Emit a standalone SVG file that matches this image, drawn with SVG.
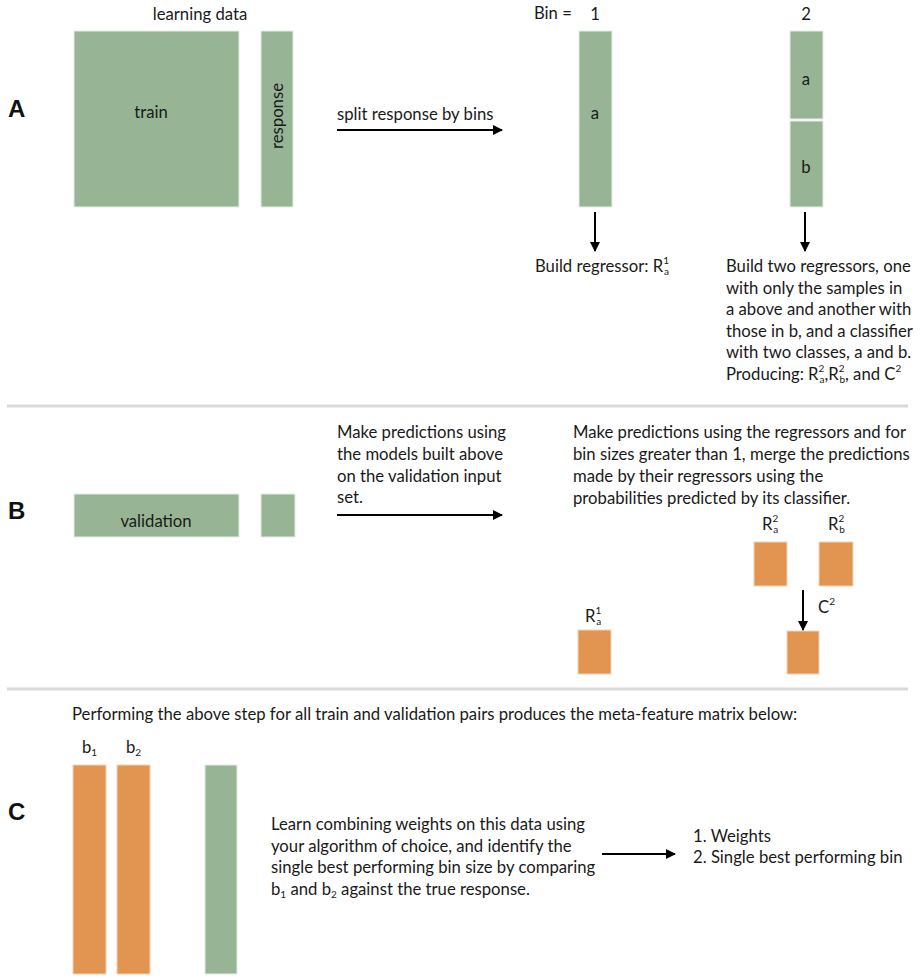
<svg xmlns="http://www.w3.org/2000/svg" width="921" height="978" viewBox="0 0 921 978">
<defs>
<marker id="ah" markerWidth="10" markerHeight="10" refX="9" refY="5" orient="auto" markerUnits="userSpaceOnUse">
<path d="M0,0 L10,5 L0,10 Z" fill="#000"/>
</marker>
<style>
.g{fill:#97b594;stroke:#e6eee5;stroke-width:1}
.o{fill:#e29451;stroke:#f3d4b8;stroke-width:1}
.t{font-family:"Lato","Liberation Sans",sans-serif;font-size:16.7px;fill:#1a1a1a}
.s{font-size:10px}
.L{font-family:"Liberation Sans",Arial,sans-serif;font-weight:bold;font-size:24px;fill:#111}
.ar{stroke:#000;stroke-width:2;fill:none;marker-end:url(#ah)}
.div{stroke:#d9d9d9;stroke-width:3}
</style>
</defs>
<rect width="921" height="978" fill="#fff"/>

<g id="dividers">
<line class="div" x1="7" y1="406" x2="908" y2="406"/>
<line class="div" x1="7" y1="689" x2="908" y2="689"/>
</g>

<g id="labels">
<text class="L" x="8" y="117">A</text>
<text class="L" x="8" y="519">B</text>
<text class="L" x="8" y="820">C</text>
</g>

<g id="sectionA">
<text class="t" x="200" y="20" text-anchor="middle">learning data</text>
<g id="train"><rect class="g" x="74" y="31" width="165" height="176"/><text class="t" x="151" y="118" text-anchor="middle">train</text></g>
<g id="response"><rect class="g" x="261" y="31" width="32" height="176"/><text class="t" transform="translate(283,116) rotate(-90)" text-anchor="middle">response</text></g>
<text class="t" x="337" y="120">split response by bins</text>
<text class="t" x="534" y="19">Bin =</text>
<text class="t" x="595" y="20" text-anchor="middle">1</text>
<text class="t" x="806" y="20" text-anchor="middle">2</text>
<g id="bin1a"><rect class="g" x="579" y="31" width="33" height="176"/><text class="t" x="595" y="119" text-anchor="middle">a</text></g>
<g id="bin2a"><rect class="g" x="790" y="31" width="33" height="88"/><text class="t" x="806" y="85" text-anchor="middle">a</text></g>
<g id="bin2b"><rect class="g" x="790" y="121" width="33" height="86"/><text class="t" x="806" y="173" text-anchor="middle">b</text></g>
<text class="t" x="535" y="272">Build regressor: R<tspan class="s" dy="-8">1</tspan><tspan class="s" dx="-5" dy="11">a</tspan></text>
<text class="t" x="726" y="272">Build two regressors, one</text>
<text class="t" x="726" y="293.6">with only the samples in</text>
<text class="t" x="726" y="315.2">a above and another with</text>
<text class="t" x="726" y="336.8">those in b, and a classifier</text>
<text class="t" x="726" y="358.4">with two classes, a and b.</text>
<text class="t" x="726" y="380">Producing:  R<tspan class="s" dy="-8">2</tspan><tspan class="s" dx="-5" dy="11">a</tspan><tspan dy="-3">,R</tspan><tspan class="s" dy="-8">2</tspan><tspan class="s" dx="-5" dy="11">b</tspan><tspan dy="-3">, and C</tspan><tspan class="s" dy="-8">2</tspan></text>
</g>

<g id="sectionB">
<g id="validation"><rect class="g" x="74" y="494" width="165" height="43"/><text class="t" x="156" y="527" text-anchor="middle">validation</text></g>
<g id="valresp"><rect class="g" x="261" y="494" width="34" height="43"/></g>
<text class="t" x="337" y="438">Make predictions using</text>
<text class="t" x="337" y="460">the models built above</text>
<text class="t" x="337" y="482">on the validation input</text>
<text class="t" x="337" y="503">set.</text>
<text class="t" x="573" y="438">Make predictions using the regressors and for</text>
<text class="t" x="573" y="460">bin sizes greater than 1, merge the predictions</text>
<text class="t" x="573" y="482">made by their regressors using the</text>
<text class="t" x="573" y="504">probabilities predicted by its classifier.</text>
<g id="Ra2"><text class="t" x="762" y="530">R<tspan class="s" dy="-8">2</tspan><tspan class="s" dx="-5" dy="11">a</tspan></text><rect class="o" x="754" y="542" width="33" height="44"/></g>
<g id="Rb2"><text class="t" x="828" y="530">R<tspan class="s" dy="-8">2</tspan><tspan class="s" dx="-5" dy="11">b</tspan></text><rect class="o" x="819" y="542" width="34" height="44"/></g>
<g id="Ra1"><text class="t" x="585" y="622">R<tspan class="s" dy="-8">1</tspan><tspan class="s" dx="-5" dy="11">a</tspan></text><rect class="o" x="578" y="630" width="33" height="44"/></g>
<g id="merged"><rect class="o" x="787" y="631" width="32" height="43"/></g>
<text class="t" x="818" y="613">C<tspan class="s" dy="-8">2</tspan></text>
</g>

<g id="sectionC">
<text class="t" x="72" y="720">Performing the above step for all train and validation pairs produces the meta-feature matrix below:</text>
<text class="t" x="82" y="753">b<tspan class="s" dy="3">1</tspan></text>
<text class="t" x="126" y="753">b<tspan class="s" dy="3">2</tspan></text>
<g id="b1"><rect class="o" x="73" y="765" width="33" height="209"/></g>
<g id="b2"><rect class="o" x="117" y="765" width="33" height="209"/></g>
<g id="truth"><rect class="g" x="205" y="765" width="32" height="209"/></g>
<text class="t" x="271" y="830">Learn combining weights on this data using</text>
<text class="t" x="271" y="852">your algorithm of choice, and identify the</text>
<text class="t" x="271" y="873">single best performing bin size by comparing</text>
<text class="t" x="271" y="895">b<tspan class="s" dy="3">1</tspan><tspan dy="-3"> and b</tspan><tspan class="s" dy="3">2</tspan><tspan dy="-3"> against the true response.</tspan></text>
<text class="t" x="693" y="842">1. Weights</text>
<text class="t" x="693" y="863">2. Single best performing bin</text>
</g>

<g id="connectors">
<line class="ar" x1="337" y1="130" x2="502" y2="130"/>
<line class="ar" x1="595" y1="212" x2="595" y2="251"/>
<line class="ar" x1="805" y1="212" x2="805" y2="251"/>
<line class="ar" x1="337" y1="515" x2="502" y2="515"/>
<line class="ar" x1="803" y1="590" x2="803" y2="630"/>
<line class="ar" x1="602" y1="854" x2="675" y2="854"/>
</g>
</svg>
